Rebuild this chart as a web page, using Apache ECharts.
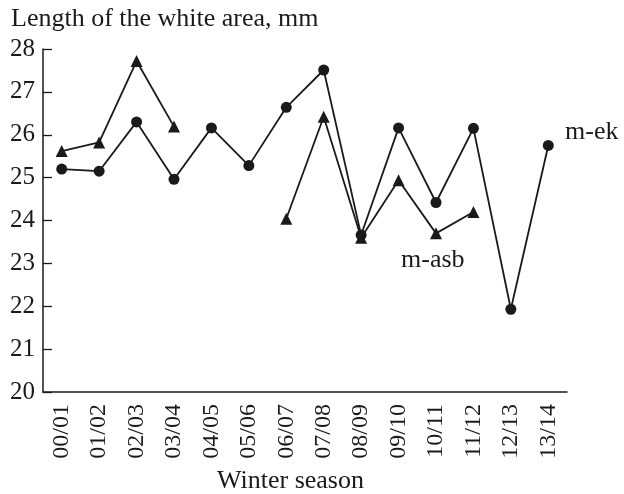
<!DOCTYPE html>
<html>
<head>
<meta charset="utf-8">
<script src="https://cdn.jsdelivr.net/npm/echarts@6/dist/echarts.min.js"></script>
<style>
  html, body { margin: 0; padding: 0; background: #fff; }
  #lineChart { width: 624px; height: 494px; }
</style>
</head>
<body>
<div id="lineChart"></div>
<script>
var seasons = ['00/01','01/02','02/03','03/04','04/05','05/06','06/07','07/08','08/09','09/10','10/11','11/12','12/13','13/14'];
// circles
var mEk = [25.2, 25.15, 26.3, 24.96, 26.16, 25.28, 26.64, 27.51, 23.66, 26.16, 24.42, 26.15, 21.93, 25.75];
// triangles
var mAsb = [25.62, 25.82, 27.72, 26.19, null, null, 24.04, 26.42, 23.6, 24.94, 23.7, 24.2, null, null];

var font = 'Liberation Serif';
var ink = '#1a1a1a';

var diagram = echarts.init(document.getElementById('lineChart'));
diagram.setOption({
  animation: false,
  title: [
    {
      text: 'Length of the white area, mm',
      left: 6, top: 1,
      textStyle: { fontFamily: font, fontSize: 26, fontWeight: 'normal', color: ink }
    },
    {
      text: 'Winter season',
      left: 212, top: 463,
      textStyle: { fontFamily: font, fontSize: 26, fontWeight: 'normal', color: ink }
    }
  ],
  grid: { left: 43, right: 57, top: 49, bottom: 102 },
  xAxis: {
    type: 'category',
    data: seasons,
    boundaryGap: true,
    axisLine: { lineStyle: { color: ink, width: 1.5 } },
    axisTick: { inside: true, length: 8, lineStyle: { color: ink, width: 1.3 } },
    axisLabel: { rotate: 90, margin: 12, fontFamily: font, fontSize: 24, color: ink }
  },
  yAxis: {
    type: 'value',
    min: 20, max: 28, interval: 1,
    axisLine: { show: true, lineStyle: { color: ink, width: 1.5 } },
    axisTick: { show: true, inside: true, length: 9, lineStyle: { color: ink, width: 1.3 } },
    axisLabel: { margin: 8, fontFamily: font, fontSize: 25, color: ink },
    splitLine: { show: false }
  },
  graphic: [
    { type: 'text', left: 565, top: 119, style: { text: 'm-ek', font: '26px "Liberation Serif"', fill: ink } },
    { type: 'text', left: 401, top: 247, style: { text: 'm-asb', font: '26px "Liberation Serif"', fill: ink } }
  ],
  series: [
    {
      name: 'm-asb',
      type: 'line',
      data: mAsb,
      symbol: 'triangle',
      symbolSize: 12,
      connectNulls: false,
      lineStyle: { color: ink, width: 1.8 },
      itemStyle: { color: ink }
    },
    {
      name: 'm-ek',
      type: 'line',
      data: mEk,
      symbol: 'circle',
      symbolSize: 11,
      lineStyle: { color: ink, width: 1.8 },
      itemStyle: { color: ink }
    }
  ]
});
</script>
</body>
</html>
